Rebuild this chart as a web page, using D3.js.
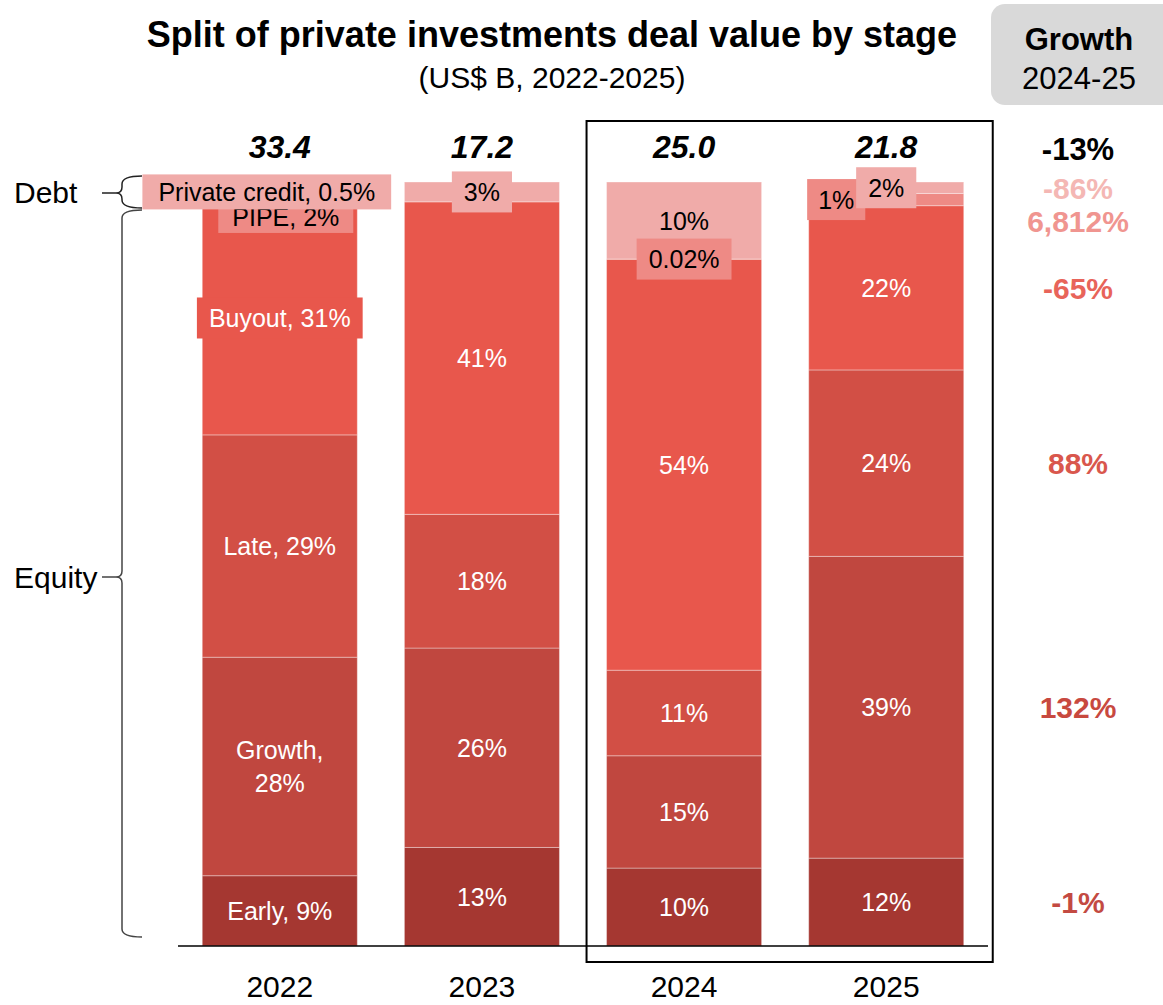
<!DOCTYPE html>
<html>
<head>
<meta charset="utf-8">
<script src="https://cdn.jsdelivr.net/npm/d3@7"></script>
<style>
  body { margin: 0; background: #fff; }
  svg { font-family: "Liberation Sans", Arial, sans-serif; }
</style>
</head>
<body>
<svg id="chart" width="1163" height="1005"></svg>
<script>
// data (share of total deal value, %)
const years = ["2022", "2023", "2024", "2025"];
const stages = ["Early", "Growth", "Late", "Buyout", "PIPE", "Private credit"];
const totals = ["33.4", "17.2", "25.0", "21.8"];
const early = [9.2, 12.9, 10.2, 11.5];
const growth = [28.6, 26.1, 14.7, 39.5];
const late = [29.1, 17.5, 11.2, 24.4];
const buyout = [30.6, 40.9, 53.8, 21.5];
const pipe = [2.0, 0, 0.02, 1.6];
const privateCredit = [0.5, 2.6, 10.08, 1.5];
const labels2022 = ["Early, 9%", "Growth,|28%", "Late, 29%", "Buyout, 31%", "PIPE, 2%", "Private credit, 0.5%"];
const labels2023 = ["13%", "26%", "18%", "41%", "", "3%"];
const labels2024 = ["10%", "15%", "11%", "54%", "0.02%", "10%"];
const labels2025 = ["12%", "39%", "24%", "22%", "1%", "2%"];
const growthLabels = ["-1%", "132%", "88%", "-65%", "6,812%", "-86%"];
const growthTotal = "-13%";

const colors = ["#A53731", "#C0473F", "#D24F45", "#E8574C", "#EE8A85", "#F0ABA9"];
const growthColors = ["#C34A42", "#C8493F", "#D9574D", "#E8645A", "#F09590", "#F4B7B4"];

const svg = d3.select("#chart");

const x = d3.scaleBand().domain(years).range([178, 988]).paddingInner(0.233).paddingOuter(0.12);
const y = d3.scaleLinear().domain([0, 100]).range([946, 182]);

const seriesVals = [early, growth, late, buyout, pipe, privateCredit];
const allLabels = [labels2022, labels2023, labels2024, labels2025];
const rows = years.map((yr, i) => {
    const r = { year: yr };
    stages.forEach((s, k) => r[s] = seriesVals[k][i]);
    return r;
});
const stacked = d3.stack().keys(stages)(rows);

// title
svg.append("text").attr("x", 552).attr("y", 47).attr("text-anchor", "middle")
    .style("font-size", "36px").style("font-weight", "bold")
    .text("Split of private investments deal value by stage");
svg.append("text").attr("x", 552).attr("y", 88).attr("text-anchor", "middle")
    .style("font-size", "30px").text("(US$ B, 2022-2025)");

// growth header
svg.append("rect").attr("x", 991).attr("y", 4).attr("width", 200).attr("height", 101)
    .attr("rx", 14).attr("fill", "#D9D9D9");
svg.append("text").attr("x", 1079).attr("y", 50).attr("text-anchor", "middle")
    .style("font-size", "31px").style("font-weight", "bold").text("Growth");
svg.append("text").attr("x", 1079).attr("y", 89).attr("text-anchor", "middle")
    .style("font-size", "31px").text("2024-25");

// highlight box round 2024-25
svg.append("rect")
    .attr("x", x("2024") - 20).attr("y", 121)
    .attr("width", x("2025") + x.bandwidth() + 29 - (x("2024") - 20)).attr("height", 841)
    .attr("fill", "none").attr("stroke", "#000").attr("stroke-width", 2);

// bars
const layer = svg.selectAll(".layer").data(stacked).join("g").attr("class", "layer")
    .attr("fill", (d, k) => colors[k]);
layer.selectAll("rect").data(d => d).join("rect")
    .attr("x", d => x(d.data.year))
    .attr("y", d => y(d[1]))
    .attr("width", x.bandwidth())
    .attr("height", d => Math.max(0, y(d[0]) - y(d[1])))
    .attr("stroke", "rgba(255,255,255,0.35)").attr("stroke-width", 1);

// baseline
svg.append("line").attr("x1", 178).attr("x2", 988).attr("y1", y(0)).attr("y2", y(0))
    .attr("stroke", "#000").attr("stroke-width", 1.5);

// segment labels
const nudge = {
    "2022-Private credit": [-13, 8, 35, 16],
    "2022-PIPE": [6, 24, 31, 14],
    "2025-PIPE": [-50, 0, 41, 11]
};
const labelFont = 25;
const measure = svg.append("text").style("font-size", labelFont + "px").attr("opacity", 0);
const labelG = svg.append("g");
stacked.forEach((ser, k) => {
    ser.forEach((d, i) => {
        const txt = allLabels[i][k];
        if (!txt) return;
        const key = d.data.year + "-" + ser.key;
        const nd = nudge[key] || [0, 0, 41, 12];
        const cx = x(d.data.year) + x.bandwidth() / 2 + nd[0];
        const cy = (y(d[0]) + y(d[1])) / 2 + nd[1];
        const lines = txt.split("|");
        const w = d3.max(lines, l => { measure.text(l); return measure.node().getComputedTextLength(); });
        const segH = y(d[0]) - y(d[1]);
        const dark = k < 4;
        const pad = nd[3];
        if (w + 24 > x.bandwidth() || segH < 30) {
            labelG.append("rect")
                .attr("x", cx - w / 2 - pad).attr("y", cy - nd[2] / 2)
                .attr("width", w + 2 * pad).attr("height", nd[2])
                .attr("fill", colors[k]);
        }
        const t = labelG.append("text").attr("text-anchor", "middle")
            .style("font-size", labelFont + "px")
            .attr("fill", dark ? "#fff" : "#000");
        lines.forEach((l, j) => {
            t.append("tspan").attr("x", cx)
                .attr("y", cy + (j - (lines.length - 1) / 2) * 33 + labelFont * 0.36)
                .text(l);
        });
    });
});
measure.remove();

// totals
svg.selectAll(".total").data(years).join("text").attr("class", "total")
    .attr("x", d => x(d) + x.bandwidth() / 2).attr("y", 158)
    .attr("text-anchor", "middle")
    .style("font-size", "32px").style("font-weight", "bold").style("font-style", "italic")
    .text((d, i) => totals[i]);

// growth column, placed at 2025 segment midpoints, pushed apart from the top
const gx = 1078;
svg.append("text").attr("x", gx).attr("y", 160).attr("text-anchor", "middle")
    .style("font-size", "31px").style("font-weight", "bold").text(growthTotal);
const seg25 = stacked.map(s => s[3]);
let prev = 150;
const gy = [];
for (let k = stages.length - 1; k >= 0; k--) {
    const mid = (y(seg25[k][0]) + y(seg25[k][1])) / 2;
    const v = Math.max(mid, prev + 33);
    gy[k] = v;
    prev = v;
}
svg.selectAll(".growth").data(growthLabels).join("text").attr("class", "growth")
    .attr("x", gx).attr("y", (d, k) => gy[k] + 11)
    .attr("text-anchor", "middle")
    .style("font-size", "30px").style("font-weight", "bold")
    .attr("fill", (d, k) => growthColors[k])
    .text(d => d);

// year labels
svg.selectAll(".year").data(years).join("text").attr("class", "year")
    .attr("x", d => x(d) + x.bandwidth() / 2).attr("y", 997)
    .attr("text-anchor", "middle").style("font-size", "30px").text(d => d);

// braces for Debt / Equity
function brace(bx, y0, y1, ym) {
    const p = d3.path();
    p.moveTo(bx + 20, y0);
    p.quadraticCurveTo(bx, y0, bx, y0 + 8);
    p.lineTo(bx, ym - 6);
    p.quadraticCurveTo(bx, ym, bx - 6, ym);
    p.quadraticCurveTo(bx, ym, bx, ym + 6);
    p.lineTo(bx, y1 - 8);
    p.quadraticCurveTo(bx, y1, bx + 20, y1);
    p.moveTo(bx - 6, ym);
    p.lineTo(bx - 20, ym);
    return p.toString();
}
const bx = 122;
svg.append("path").attr("d", brace(bx, y(100) - 6, y(97.5) + 7, 193))
    .attr("fill", "none").attr("stroke", "#222").attr("stroke-width", 1.5);
svg.append("path").attr("d", brace(bx, y(97.5) + 9, y(0) - 9, 577))
    .attr("fill", "none").attr("stroke", "#444").attr("stroke-width", 1.5);
svg.append("text").attr("x", 14).attr("y", 203).style("font-size", "30px").text("Debt");
svg.append("text").attr("x", 14).attr("y", 588).style("font-size", "30px").text("Equity");
</script>
</body>
</html>
